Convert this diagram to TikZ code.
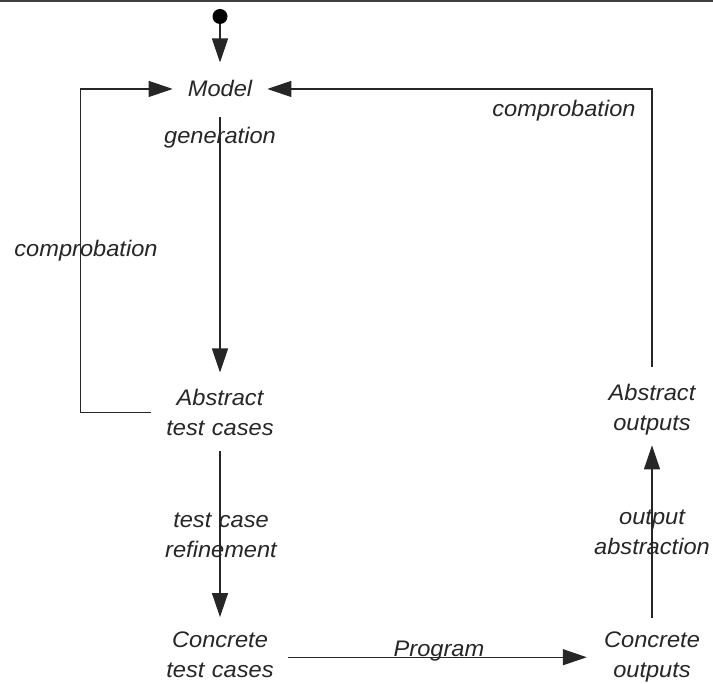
\documentclass[tikz,border=0pt]{standalone}
\usepackage{fontspec}
\setmainfont{Liberation Sans}[FakeStretch=1.05]
\usetikzlibrary{arrows.meta}
\begin{document}
\begin{tikzpicture}[x=1pt,y=-1pt,
  txt/.style={inner sep=0pt, font=\fontsize{22.5}{29.5}\selectfont\itshape, text=black!85, align=center},
  two/.style={txt, text width=#1},
  arr/.style={-{Triangle[length=24pt,width=16pt]}},
  conn/.style={line width=1.2pt, black!85},
]
\useasboundingbox (0,0) rectangle (713,684);
\draw[line width=2pt, black!75] (0,1) -- (713,1);

% nodes
\node[circle, fill=black, inner sep=0pt, minimum size=15pt] (start) at (220,16.5) {};
\node[txt, anchor=base] (model) at (220,97) {Model};
\node[two=110pt, anchor=base] (atc) at (220,406) {Abstract\\test cases};
\node[two=110pt, anchor=base] (ctc) at (220,648) {Concrete\\test cases};
\node[two=100pt, anchor=base] (co) at (652,648) {Concrete\\outputs};
\node[two=100pt, anchor=base] (ao) at (652,401) {Abstract\\outputs};

% labels
\node[txt, anchor=base] (gen) at (220,144) {generation};
\node[txt, anchor=base] (cl) at (86,257) {comprobation};
\node[txt, anchor=base] (cr) at (564,117) {comprobation};
\node[two=120pt, anchor=base] (tcr) at (221,528) {test case\\refinement};
\node[two=130pt, anchor=base] (oa) at (652,525) {output\\abstraction};
\node[txt, anchor=base] (prog) at (439,656) {Program};

% connectors
\draw[conn, arr, shorten >=18pt] (start) -- (model.north);
\draw[conn, arr, shorten <=20pt, shorten >=17pt] (model.south) -- (atc.north);
\draw[conn, arr, shorten <=15pt, shorten >=15pt] (atc.south) -- (ctc.north);
\draw[conn, arr, shorten <=13pt, shorten >=15pt] (ctc.east |- co.west) -- (co.west);
\draw[conn, arr, shorten <=14pt, shorten >=10pt] (co.north) -- (ao.south);
\draw[conn, arr, shorten <=17pt, shorten >=15pt] (ao.north) |- (model.east);
\draw[conn, arr, shorten <=14pt, shorten >=15pt] (atc.west) -- ++(-84,0) |- (model.west);
\end{tikzpicture}
\end{document}
